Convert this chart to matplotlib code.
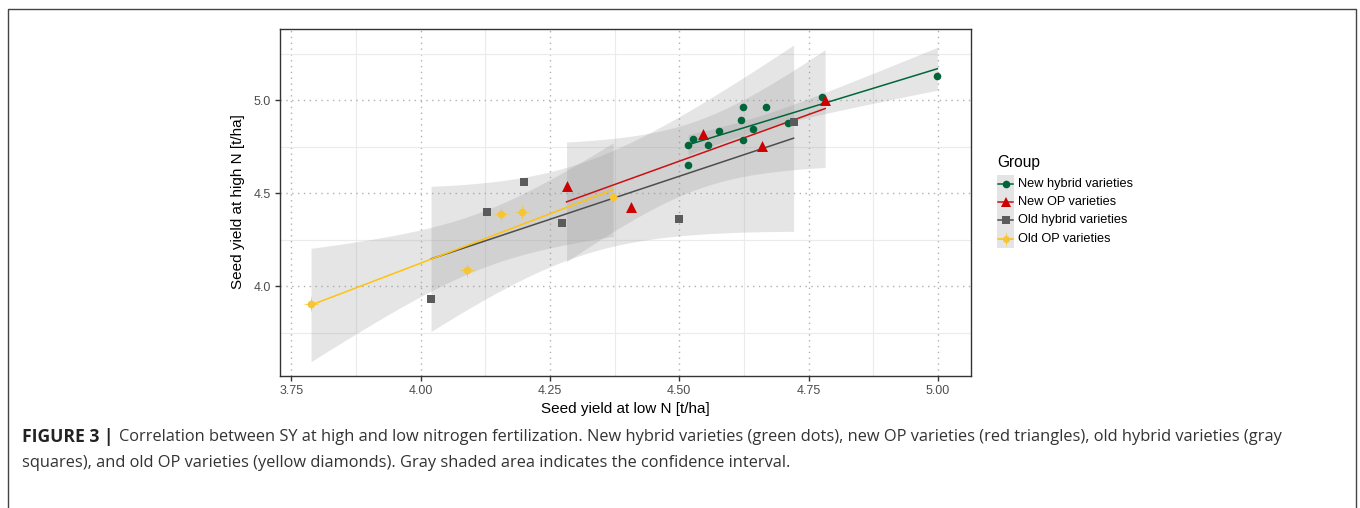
import numpy as np
import matplotlib
matplotlib.use("Agg")
import matplotlib.pyplot as plt
from matplotlib.path import Path
from matplotlib.patches import Rectangle
from matplotlib.lines import Line2D

plt.rcParams['font.family'] = ['Liberation Sans', 'DejaVu Sans']

# ---------------- data ----------------
group_names = ["New hybrid varieties", "New OP varieties",
               "Old hybrid varieties", "Old OP varieties"]

new_hybrid_x = [4.517, 4.517, 4.526, 4.556, 4.577, 4.624, 4.619, 4.624,
                4.642, 4.668, 4.710, 4.776, 4.999]
new_hybrid_y = [4.654, 4.758, 4.790, 4.759, 4.837, 4.964, 4.892, 4.785,
                4.846, 4.961, 4.876, 5.018, 5.129]

new_op_x = [4.282, 4.406, 4.545, 4.660, 4.782]
new_op_y = [4.541, 4.424, 4.820, 4.752, 5.000]

old_hybrid_x = [4.020, 4.128, 4.199, 4.273, 4.500, 4.721]
old_hybrid_y = [3.935, 4.402, 4.558, 4.338, 4.361, 4.883]

old_op_x = [3.788, 4.089, 4.155, 4.196, 4.372]
old_op_y = [3.907, 4.086, 4.390, 4.399, 4.478]

x_ticks = [3.75, 4.00, 4.25, 4.50, 4.75, 5.00]
x_tick_labels = ["3.75", "4.00", "4.25", "4.50", "4.75", "5.00"]
y_ticks = [4.0, 4.5, 5.0]
y_tick_labels = ["4.0", "4.5", "5.0"]

# two-sided 95% t quantiles by degrees of freedom
t95 = {3: 3.182, 4: 2.776, 11: 2.201}

# ---------------- styles ----------------
colors = ["#00663a", "#cc0000", "#5b5b5b", "#f7c531"]
line_colors = ["#00663a", "#cc1010", "#4d4d4d", "#ffc20e"]

W, H = 1360, 508
fig = plt.figure(figsize=(W / 100, H / 100), dpi=100)


def fx(px):
    return px / W


def fy(py):
    return 1 - py / H


ax = fig.add_axes([fx(280), fy(376), (971 - 280) / W, (376 - 29) / H])
ax.set_xlim(3.728, 5.064)
ax.set_ylim(3.519, 5.382)

ax.set_xticks(x_ticks)
ax.set_xticklabels(x_tick_labels)
ax.set_yticks(y_ticks)
ax.set_yticklabels(y_tick_labels)
ax.set_xticks([3.875, 4.125, 4.375, 4.625, 4.875], minor=True)
ax.set_yticks([3.75, 4.25, 4.75, 5.25], minor=True)
ax.grid(which='minor', color='#ebebeb', lw=0.8, ls='-')
ax.grid(which='major', color='#b0b0b0', lw=1.0, ls=(0, (1, 3.2)))
ax.set_axisbelow(True)
ax.tick_params(which='minor', length=0)
ax.tick_params(which='major', direction='out', length=3.5, width=1,
               color='#333333', labelsize=9, labelcolor='#4d4d4d', pad=3)
for sp in ax.spines.values():
    sp.set_color('#333333')
    sp.set_linewidth(1.0)

data = [(new_hybrid_x, new_hybrid_y), (new_op_x, new_op_y),
        (old_hybrid_x, old_hybrid_y), (old_op_x, old_op_y)]

# smooth (lm) layers: ribbon then line for each group
for i, (xs, ys) in enumerate(data):
    x = np.array(xs)
    y = np.array(ys)
    n = len(x)
    b, a = np.polyfit(x, y, 1)
    xg = np.linspace(x.min(), x.max(), 80)
    yg = a + b * xg
    resid = y - (a + b * x)
    s = np.sqrt(np.sum(resid ** 2) / (n - 2))
    sxx = np.sum((x - x.mean()) ** 2)
    se = s * np.sqrt(1 / n + (xg - x.mean()) ** 2 / sxx)
    t = t95[n - 2]
    ax.fill_between(xg, yg - t * se, yg + t * se, color='#999999',
                    alpha=0.25, lw=0)
    ax.plot(xg, yg, color=line_colors[i], lw=1.1)

# sparkle marker for old OP varieties
sparkle = Path([(0, 1), (0.12, 0.12), (1, 0), (0.12, -0.12), (0, -1),
                (-0.12, -0.12), (-1, 0), (-0.12, 0.12), (0, 1)],
               [Path.MOVETO] + [Path.LINETO] * 7 + [Path.CLOSEPOLY])

ax.scatter(new_hybrid_x, new_hybrid_y, s=30, marker='o', color=colors[0],
           lw=0, zorder=5)
ax.scatter(new_op_x, new_op_y, s=62, marker='^', color=colors[1], lw=0,
           zorder=5)
ax.scatter(old_hybrid_x, old_hybrid_y, s=34, marker='s', color=colors[2],
           lw=0, zorder=5)
ax.scatter(old_op_x, old_op_y, s=150, marker=sparkle, color=colors[3],
           alpha=0.85, lw=0, zorder=5)
ax.scatter(old_op_x, old_op_y, s=30, marker='o', color=colors[3], lw=0,
           zorder=6)

# axis titles
fig.text(fx(625), fy(409), "Seed yield at low N [t/ha]", ha='center',
         va='center', fontsize=11, color='#000000')
fig.text(fx(238), fy(202), "Seed yield at high N [t/ha]", ha='center',
         va='center', rotation=90, fontsize=11, color='#000000')

# legend (drawn manually in pixel space)
lax = fig.add_axes([0, 0, 1, 1], facecolor='none')
lax.set_xlim(0, W)
lax.set_ylim(H, 0)
lax.axis('off')
lax.text(997, 163, "Group", fontsize=11.2, va='center', ha='left')
key_top = 174.5
key_h = 18.3
markers = ['o', '^', 's', sparkle]
msizes = [5.5, 7.2, 5.6, 11]
for i, name in enumerate(group_names):
    yc = key_top + key_h * (i + 0.5)
    lax.add_patch(Rectangle((996.5, key_top + key_h * i), 17.5, key_h,
                            facecolor='#e4e4e4', edgecolor='none'))
    lax.plot([998, 1013], [yc, yc], color=line_colors[i], lw=1.1)
    lax.plot([1005.5], [yc], marker=markers[i], ms=msizes[i],
             color=colors[i], mew=0)
    if i == 3:
        lax.plot([1005.5], [yc], marker='o', ms=5, color=colors[i], mew=0)
    lax.text(1018, yc, name, fontsize=9.2, va='center', ha='left',
             color='#000000')

# outer frame (open at the bottom)
fig.add_artist(Line2D([fx(7.5), fx(7.5), fx(1355.5), fx(1355.5)],
                      [0, fy(9), fy(9), 0], transform=fig.transFigure,
                      color='#444444', lw=1.0))

# caption
cap_font = ['Open Sans', 'DejaVu Sans']
cap_color = '#333333'
cap_fs = 11.8
fig.canvas.draw()
renderer = fig.canvas.get_renderer()
t1 = fig.text(fx(22), fy(437), "FIGURE 3 |", fontsize=12.6,
              fontweight='bold', va='center', ha='left', color='#222222',
              family=cap_font)
bb = t1.get_window_extent(renderer=renderer)
fig.text((bb.x1 + 6) / W, fy(437),
         "Correlation between SY at high and low nitrogen fertilization. "
         "New hybrid varieties (green dots), new OP varieties (red triangles), "
         "old hybrid varieties (gray",
         fontsize=cap_fs, va='center', ha='left', color=cap_color,
         family=cap_font)
fig.text(fx(22), fy(463),
         "squares), and old OP varieties (yellow diamonds). Gray shaded area "
         "indicates the confidence interval.",
         fontsize=cap_fs, va='center', ha='left', color=cap_color,
         family=cap_font)

fig.savefig("out.png", dpi=100)
